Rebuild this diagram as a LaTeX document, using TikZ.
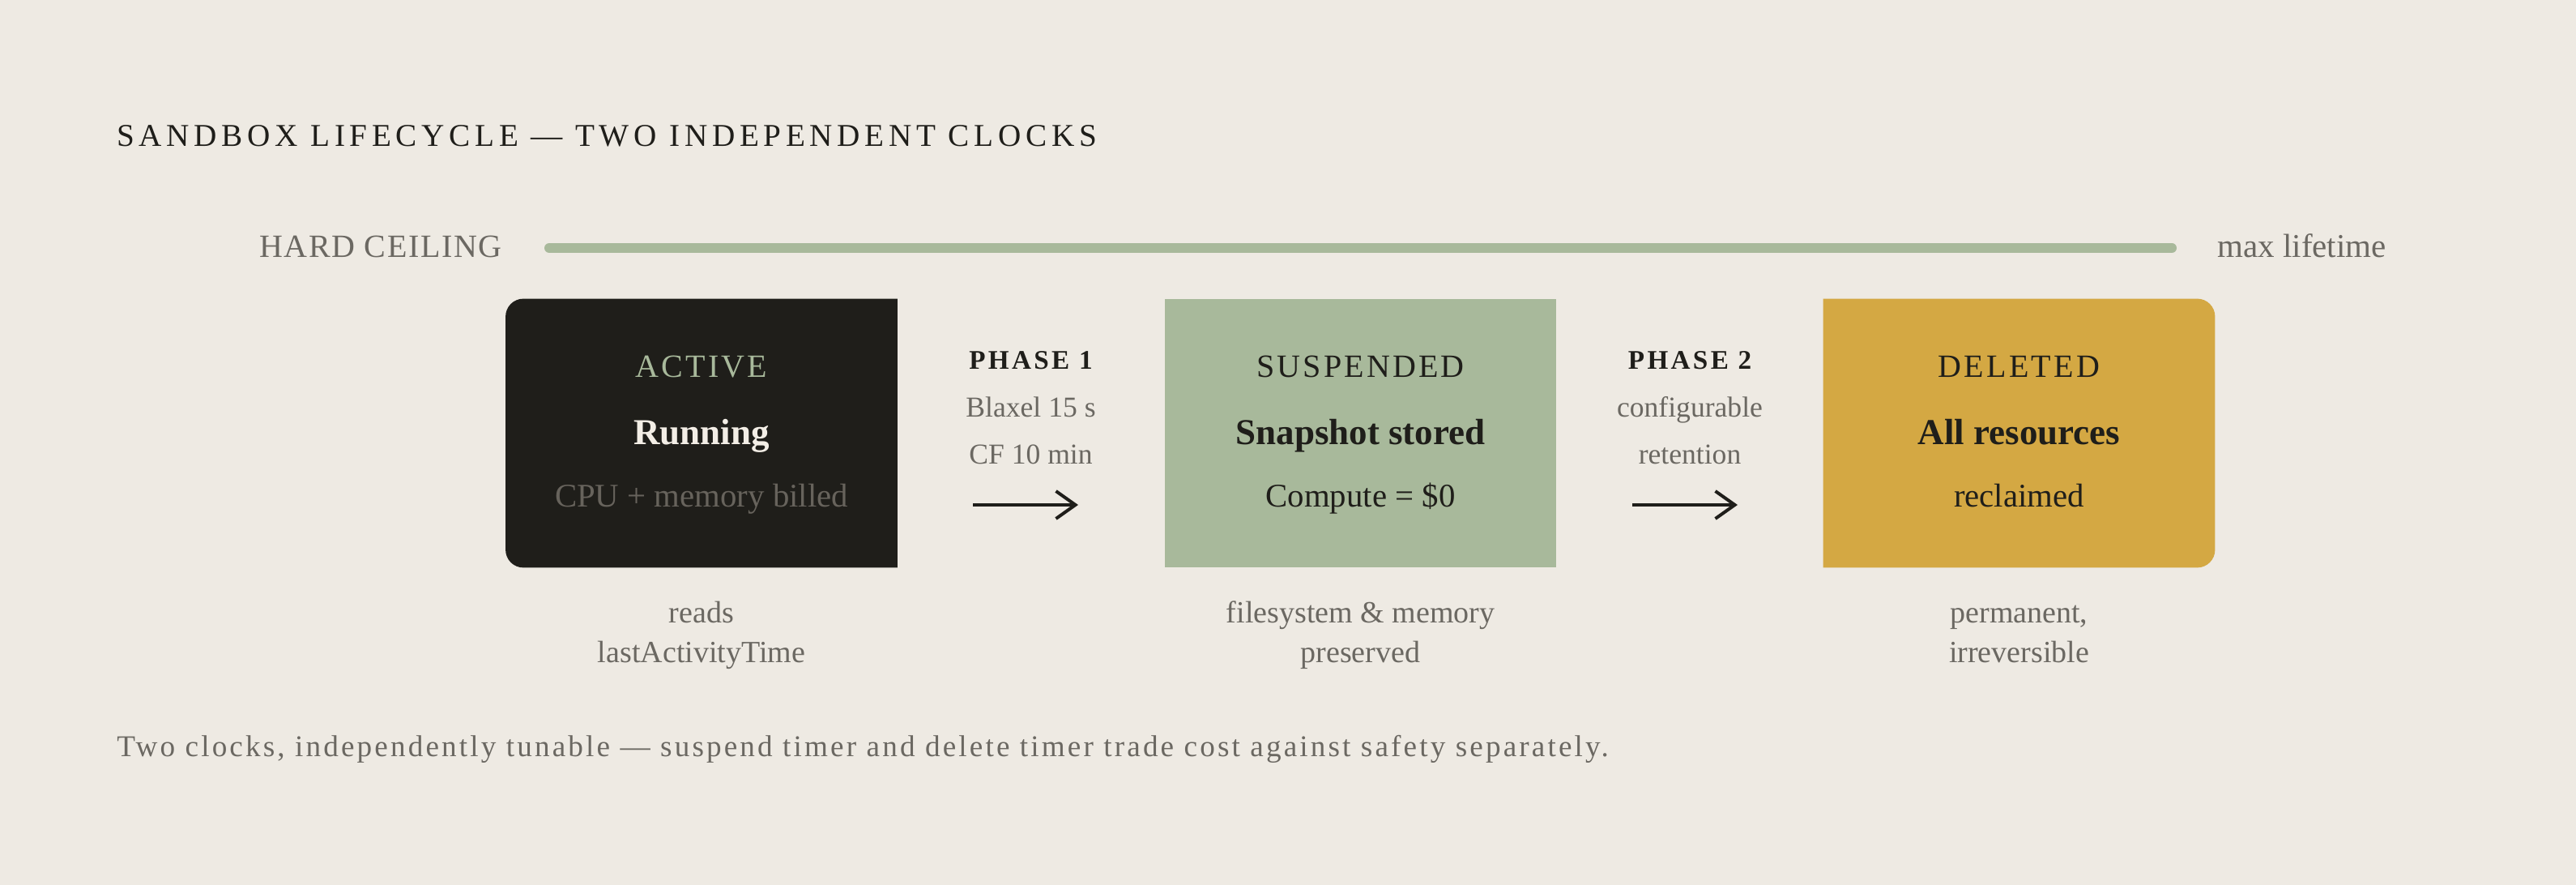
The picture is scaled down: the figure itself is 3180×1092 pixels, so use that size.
\documentclass[tikz,border=0pt]{standalone}
\usepackage{fontspec}
\setmainfont{Liberation Serif}
\newfontfamily\titlefont[LetterSpace=14.5]{Liberation Serif}
\newfontfamily\capsfont[LetterSpace=8]{Liberation Serif}
\newfontfamily\ceilfont[LetterSpace=4]{Liberation Serif}
\newfontfamily\phasefont[LetterSpace=10]{Liberation Serif}
\newfontfamily\notefont[LetterSpace=8.4]{Liberation Serif}
\usetikzlibrary{arrows.meta,backgrounds}
\definecolor{paper}{HTML}{EEEAE3}
\definecolor{ink}{HTML}{1F1E1A}
\definecolor{sage}{HTML}{A8B99B}
\definecolor{gold}{HTML}{D4A843}
\definecolor{muted}{HTML}{6B6862}
\definecolor{chalk}{HTML}{F3EEE6}
\definecolor{dimtext}{HTML}{67635C}

\begin{document}
\begin{tikzpicture}[x=0.5pt,y=0.5pt,
  every node/.style={inner sep=0pt},
  stage/.style={minimum width=241.5pt,minimum height=165.5pt},
  tag/.style={anchor=base,font=\capsfont\fontsize{20pt}{24pt}\selectfont},
  main/.style={anchor=base,font=\bfseries\fontsize{22.5pt}{27pt}\selectfont},
  sub/.style={anchor=base,font=\fontsize{20.4pt}{24pt}\selectfont},
  phase/.style={anchor=base,text=ink,font=\phasefont\bfseries\fontsize{16.6pt}{20pt}\selectfont},
  cond/.style={anchor=base,text=muted,font=\fontsize{17.8pt}{21pt}\selectfont},
  note/.style={anchor=base,text=muted,align=center,font=\fontsize{19pt}{24.5pt}\selectfont},
  flow/.style={-{Straight Barb[length=12pt,width=17pt]},line width=2pt,draw=ink}]
\useasboundingbox (0,0) rectangle (3180,1092);
\begin{scope}[on background layer]
  \fill[paper] (0,0) rectangle (3180,1092);
\end{scope}

% title and hard ceiling
\node[anchor=base west,text=ink,font=\titlefont\fontsize{19.6pt}{24pt}\selectfont] (title) at (144,911) {SANDBOX LIFECYCLE — TWO INDEPENDENT CLOCKS};
\node[anchor=base east,text=muted,font=\ceilfont\fontsize{20pt}{24pt}\selectfont] (ceil) at (620,774) {HARD CEILING};
\node[anchor=base west,text=muted,font=\fontsize{20.5pt}{24pt}\selectfont] (life) at (2737,774) {max lifetime};
\coordinate (c1) at (678,786);
\coordinate (c2) at (2681,786);
\draw[sage,line width=6pt,line cap=round] (c1) -- (c2);

% the three stages
\node[stage] (act) at (866,557.5) {};
\node[stage,fill=sage] (sus) at (1679.5,557.5) {};
\node[stage] (del) at (2492.5,557.5) {};
\begin{scope}[on background layer]
  \fill[ink] (act.north) [rounded corners=11pt] -- (act.north west) -- (act.south west) -- (act.south) [sharp corners] -- (act.south east) -- (act.north east) -- cycle;
  \fill[gold] (del.north) -- (del.north west) -- (del.south west) -- (del.south) [rounded corners=11pt] -- (del.south east) -- (del.north east) -- cycle;
\end{scope}

\node[tag,text=sage] (actT) at ([yshift=34.5pt]act.center) {ACTIVE};
\node[main,text=chalk] (actM) at ([yshift=-7.25pt]act.center) {Running};
\node[sub,text=dimtext] (actS) at ([yshift=-45.5pt]act.center) {CPU + memory billed};

\node[tag,text=ink] (susT) at ([yshift=34.5pt]sus.center) {SUSPENDED};
\node[main,text=ink] (susM) at ([yshift=-7.25pt]sus.center) {Snapshot stored};
\node[sub,text=ink] (susS) at ([yshift=-45.5pt]sus.center) {Compute = \$0};

\node[tag,text=ink] (delT) at ([yshift=34.5pt]del.center) {DELETED};
\node[main,text=ink] (delM) at ([yshift=-7.25pt]del.center) {All resources};
\node[sub,text=ink] (delS) at ([yshift=-45.5pt]del.center) {reclaimed};

% phases between the stages
\node[phase] (p1) at (1272.5,636) {PHASE 1};
\node[cond] (p1a) at (1272.5,577) {Blaxel 15 s};
\node[cond] (p1b) at (1272.5,519) {CF 10 min};
\coordinate (p1s) at (1201,469);
\coordinate (p1e) at (1331,469);
\draw[flow] (p1s) -- (p1e);

\node[phase] (p2) at (2086,636) {PHASE 2};
\node[cond] (p2a) at (2086,577) {configurable};
\node[cond] (p2b) at (2086,519) {retention};
\coordinate (p2s) at (2015,469);
\coordinate (p2e) at (2145,469);
\draw[flow] (p2s) -- (p2e);

% notes under the stages
\node[note] (actN) at (866,274) {reads\\lastActivityTime};
\node[note] (susN) at (1679.5,274) {filesystem \& memory\\preserved};
\node[note] (delN) at (2492.5,274) {permanent,\\irreversible};

\node[anchor=base west,text=muted,font=\notefont\fontsize{18.6pt}{22pt}\selectfont] (foot) at (144,158) {Two clocks, independently tunable — suspend timer and delete timer trade cost against safety separately.};
\end{tikzpicture}
\end{document}
